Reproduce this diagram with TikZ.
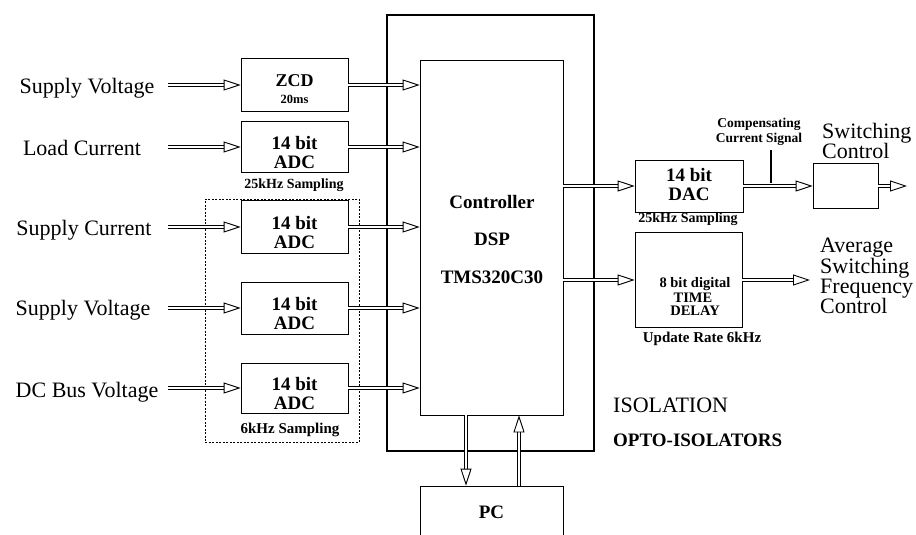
\documentclass[tikz,border=0pt]{standalone}
\usepackage{fontspec}
\setmainfont{Liberation Serif}
\usetikzlibrary{arrows.meta}
\begin{document}
\begin{tikzpicture}[x=1pt,y=-1pt,
  plainbox/.style={draw, line width=0.8pt, inner sep=0pt},
  harrow/.style={double, double distance=2.2pt, line width=0.9pt,
    -{Triangle[open, length=17pt, width=11pt, line width=0.9pt]}},
  lab/.style={font=\fontsize{22}{22}\selectfont, anchor=base, inner sep=0pt},
  rlab/.style={font=\fontsize{22}{22}\selectfont, anchor=base west, inner sep=0pt},
  btxt/.style={font=\fontsize{19}{19}\selectfont\bfseries, inner sep=0pt},
  bbase/.style={font=\fontsize{19}{19}\selectfont\bfseries, inner sep=0pt, anchor=base},
  small/.style={font=\fontsize{14}{14}\selectfont\bfseries, anchor=base, inner sep=0pt},
]
\useasboundingbox (0,0) rectangle (916,535);

% isolation frame and DSP
\node[draw, line width=2.2pt, minimum width=207pt, minimum height=436pt] (iso) at (490.5,233) {};
\node[plainbox, minimum width=143pt, minimum height=355pt] (dsp) at (491.5,237.5) {};
\node[btxt] (t1) at (492,202) {Controller};
\node[btxt] (t2) at (492,239) {DSP};
\node[btxt] (t3) at (492,277) {TMS320C30};

% dashed group
\node[draw, line width=0.6pt, dash pattern=on 2pt off 1.5pt, minimum width=154pt, minimum height=243pt] (grp) at (282,320.5) {};

% left boxes
\node[plainbox, minimum width=107pt, minimum height=53pt] (zcd) at (294.5,85) {};
\node[bbase, font=\fontsize{18}{18}\selectfont\bfseries] (zcdt) at (294.5,87) {ZCD};
\node[small, font=\fontsize{12.5}{12.5}\selectfont\bfseries] (zcdm) at (294.5,103) {20ms};

\node[plainbox, minimum width=107pt, minimum height=51pt] (adc1) at (294.5,147) {};
\node[bbase] (adc1a) at (294.5,149) {14 bit};
\node[bbase] (adc1b) at (294.5,168) {ADC};
\node[plainbox, minimum width=107pt, minimum height=53pt] (adc2) at (294.5,227) {};
\node[bbase] (adc2a) at (294.5,229) {14 bit};
\node[bbase] (adc2b) at (294.5,248) {ADC};
\node[plainbox, minimum width=107pt, minimum height=52pt] (adc3) at (294.5,308) {};
\node[bbase] (adc3a) at (294.5,310) {14 bit};
\node[bbase] (adc3b) at (294.5,329) {ADC};
\node[plainbox, minimum width=107pt, minimum height=50pt] (adc4) at (294.5,388) {};
\node[bbase] (adc4a) at (294.5,390) {14 bit};
\node[bbase] (adc4b) at (294.5,409) {ADC};
\node[small] (s1) at (294,188) {25kHz Sampling};
\node[small, font=\fontsize{15}{15}\selectfont\bfseries] (s2) at (290,433) {6kHz Sampling};

% left labels
\node[lab] (l1) at (87,93) {Supply Voltage};
\node[lab] (l2) at (82,155) {Load Current};
\node[lab] (l3) at (84,235) {Supply Current};
\node[lab] (l4) at (83,315) {Supply Voltage};
\node[lab] (l5) at (87,397) {DC Bus Voltage};

\coordinate (in1) at (168,85);
\coordinate (in2) at (168,147);
\coordinate (in3) at (168,227);
\coordinate (in4) at (168,308);
\coordinate (in5) at (168,388);
\draw[harrow] (in1) -- (zcd.west);
\draw[harrow] (in2) -- (adc1.west);
\draw[harrow] (in3) -- (adc2.west);
\draw[harrow] (in4) -- (adc3.west);
\draw[harrow] (in5) -- (adc4.west);

\draw[harrow] (zcd.east) -- (zcd.east -| dsp.west);
\draw[harrow] (adc1.east) -- (adc1.east -| dsp.west);
\draw[harrow] (adc2.east) -- (adc2.east -| dsp.west);
\draw[harrow] (adc3.east) -- (adc3.east -| dsp.west);
\draw[harrow] (adc4.east) -- (adc4.east -| dsp.west);

% PC
\node[plainbox, minimum width=143pt, minimum height=64pt] (pc) at (491.5,518) {};
\node[btxt] (pct) at (491.5,512) {PC};
\coordinate (dn) at (466,0);
\coordinate (up) at (519,0);
\draw[harrow] (dsp.south -| dn) -- (pc.north -| dn);
\draw[harrow] (pc.north -| up) -- (dsp.south -| up);

% right side
\node[plainbox, minimum width=108pt, minimum height=52pt] (dac) at (689,186) {};
\node[bbase] (daca) at (689,181) {14 bit};
\node[bbase] (dacb) at (689,200) {DAC};
\node[small] (s3) at (688,222) {25kHz Sampling};
\node[plainbox, minimum width=65pt, minimum height=45pt] (sw) at (845.5,186) {};
\coordinate (swout) at (907,186);
\draw[harrow] (dsp.east |- dac.west) -- (dac.west);
\draw[harrow] (dac.east) -- (sw.west);
\draw[harrow] (sw.east) -- (swout);
\coordinate (mk1) at (771,150);
\coordinate (mk2) at (771,183);
\draw[line width=2.5pt] (mk1) -- (mk2);
\node[small, font=\fontsize{13.5}{13.5}\selectfont\bfseries] (c1) at (759,128) {Compensating};
\node[small, font=\fontsize{13.5}{13.5}\selectfont\bfseries] (c2) at (759,142) {Current Signal};
\node[rlab] (r1) at (822,138) {Switching};
\node[rlab] (r2) at (822,158) {Control};

\node[plainbox, minimum width=107pt, minimum height=95pt] (delay) at (688.5,280) {};
\node[small, font=\fontsize{14.5}{14.5}\selectfont\bfseries] (d1) at (695,287) {8 bit digital};
\node[small, font=\fontsize{14.5}{14.5}\selectfont\bfseries] (d2) at (693,302) {TIME};
\node[small, font=\fontsize{14.5}{14.5}\selectfont\bfseries] (d3) at (695,315) {DELAY};
\node[small, font=\fontsize{15}{15}\selectfont\bfseries] (s4) at (702,342) {Update Rate 6kHz};
\coordinate (avgout) at (810,280);
\draw[harrow] (dsp.east |- delay.west) -- (delay.west);
\draw[harrow] (delay.east) -- (avgout);
\node[rlab] (a1) at (820,252) {Average};
\node[rlab] (a2) at (820,273) {Switching};
\node[rlab] (a3) at (820,293) {Frequency};
\node[rlab] (a4) at (820,313) {Control};

\node[rlab] (i1) at (613,412) {ISOLATION};
\node[rlab, font=\fontsize{19}{19}\selectfont\bfseries] (i2) at (613,446) {OPTO-ISOLATORS};
\end{tikzpicture}
\end{document}
